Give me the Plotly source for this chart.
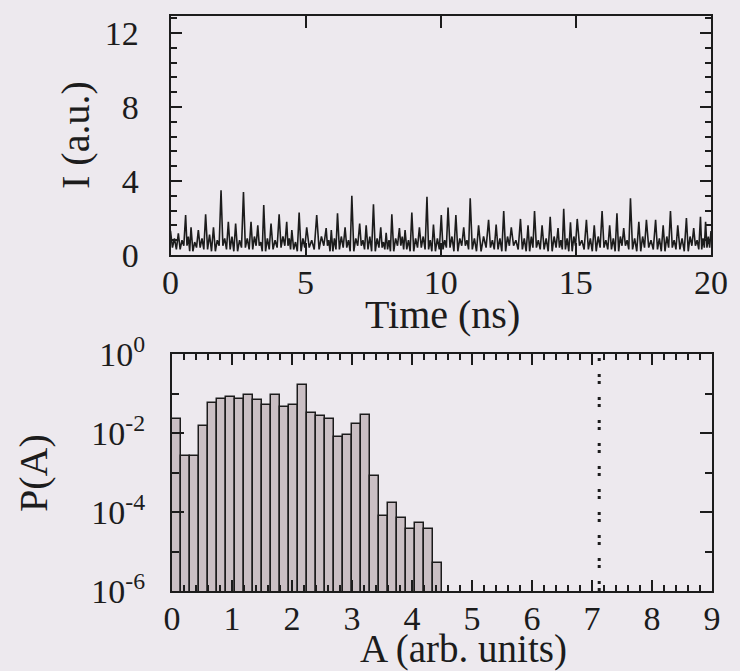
import plotly.graph_objects as go

# ---------------- data ----------------
# Top panel: intensity time trace (peak times in ns, peak heights, trough levels and the small
# bumps seen between consecutive spikes)
peak_times = [0.0, 0.29, 0.56, 0.76, 1.03, 1.30, 1.59, 1.87, 2.14, 2.41, 2.70, 2.98, 3.23, 3.45,
              3.72, 4.02, 4.30, 4.49, 4.76, 5.04, 5.41, 5.76, 5.95, 6.18, 6.46, 6.71, 7.00, 7.24,
              7.51, 7.78, 7.98, 8.19, 8.47, 8.68, 8.93, 9.21, 9.49, 9.73, 10.02, 10.27, 10.56,
              10.85, 11.09, 11.40, 11.77, 12.05, 12.33, 12.61, 12.95, 13.23, 13.47, 13.75, 14.05,
              14.34, 14.55, 14.80, 15.05, 15.39, 15.68, 15.97, 16.25, 16.52, 16.77, 17.02, 17.33,
              17.61, 17.95, 18.23, 18.50, 18.77, 19.09, 19.36, 19.61, 19.80, 20.0]
peak_values = [1.3, 1.17, 2.16, 1.5, 1.35, 2.2, 1.5, 3.5, 1.8, 1.7, 3.4, 1.8, 1.6, 2.7,
               1.7, 2.2, 1.8, 1.35, 2.3, 1.5, 2.16, 1.45, 1.35, 2.25, 1.5, 3.2, 1.7, 1.6,
               2.74, 1.5, 1.2, 2.2, 1.45, 1.35, 2.3, 1.5, 3.15, 1.65, 2.16, 2.56, 2.16,
               1.5, 3.06, 1.6, 1.9, 1.65, 2.38, 1.5, 1.95, 1.6, 2.38, 1.6, 2.07,
               1.45, 2.5, 1.77, 1.95, 1.9, 1.6, 2.38, 1.6, 2.25, 1.45, 3.06, 1.8,
               1.9, 1.9, 1.6, 2.38, 1.6, 2.0, 1.45, 2.07, 1.8, 1.3]
trough_values = [0.4, 0.3, 0.5, 0.2, 0.4, 0.3, 0.2, 0.5, 0.3, 0.2, 0.4, 0.3, 0.5, 0.2,
                 0.3, 0.4, 0.5, 0.3, 0.2, 0.4, 0.3, 0.5, 0.2, 0.3, 0.4, 0.2, 0.5, 0.3,
                 0.2, 0.4, 0.3, 0.2, 0.5, 0.3, 0.2, 0.4, 0.3, 0.2, 0.3, 0.4, 0.2,
                 0.5, 0.3, 0.2, 0.4, 0.3, 0.2, 0.5, 0.3, 0.2, 0.4, 0.3, 0.2,
                 0.4, 0.3, 0.2, 0.5, 0.3, 0.2, 0.4, 0.3, 0.2, 0.5, 0.3, 0.2,
                 0.4, 0.3, 0.2, 0.4, 0.3, 0.2, 0.5, 0.3, 0.4]
bump_values = [0.9, 0.8, 1.0, 0.7, 0.9, 1.1, 0.8, 0.9, 1.0, 0.8, 0.9, 1.0, 0.7, 0.9,
               0.8, 1.0, 0.9, 0.7, 0.9, 0.8, 1.0, 0.8, 0.9, 1.0, 0.8, 0.9, 0.8, 1.0,
               0.9, 0.7, 0.8, 0.9, 1.0, 0.8, 0.9, 1.0, 0.8, 0.9, 0.8, 1.0, 0.9,
               0.8, 0.9, 1.0, 0.8, 0.9, 1.0, 0.8, 0.9, 1.0, 0.8, 0.9, 1.0,
               0.8, 0.9, 1.0, 0.8, 0.9, 1.0, 0.8, 0.9, 1.0, 0.8, 0.9, 1.0,
               0.8, 0.9, 1.0, 0.8, 0.9, 1.0, 0.8, 0.9, 1.0]

# Bottom panel: histogram of amplitudes A (bin width 0.15) on log scale
bin_left = [round(0.15 * i, 2) for i in range(30)]
bin_width = 0.15
prob_log10 = [-1.65, -2.58, -2.58, -1.81, -1.25, -1.14, -1.10, -1.15, -1.05, -1.16,
              -1.29, -1.04, -1.35, -1.30, -0.79, -1.50, -1.57, -1.65, -2.09, -2.05,
              -1.77, -1.55, -3.09, -4.10, -3.78, -4.14, -4.44, -4.29, -4.44, -5.30]
threshold_A = 7.12

y_top_ticks = [0, 4, 8, 12]
x_top_ticks = [0, 5, 10, 15, 20]
y_bot_tickvals = [1e-6, 1e-4, 1e-2, 1]
y_bot_ticktext = ["10<sup>-6</sup>", "10<sup>-4</sup>", "10<sup>-2</sup>", "10<sup>0</sup>"]
y_bot_minor = [1e-5, 1e-3, 1e-1]

# ---------------- build ----------------
tx, ty = [], []
n = len(peak_times)
for i in range(n):
    t = peak_times[i]
    tx.append(t)
    ty.append(peak_values[i])
    if i + 1 < n:
        d = peak_times[i + 1] - t
        tx += [t + 0.25 * d, t + 0.5 * d, t + 0.75 * d]
        ty += [trough_values[i], bump_values[i], trough_values[(i + 1) % len(trough_values)]]

probs = [10 ** p for p in prob_log10]
centers = [b + bin_width / 2 for b in bin_left]

BG = "#ede9ee"
INK = "#1c1c1c"
FONT = "Liberation Serif, Times New Roman, serif"
W, H = 740, 671

fig = go.Figure()
fig.add_trace(go.Scatter(x=tx, y=ty, mode="lines", line=dict(color=INK, width=1.6),
                         xaxis="x", yaxis="y", showlegend=False, hoverinfo="skip"))
fig.add_trace(go.Bar(x=centers, y=probs, width=bin_width, xaxis="x2", yaxis="y2",
                     marker=dict(color="#cabfc4", line=dict(color=INK, width=1.5)),
                     showlegend=False))
fig.add_trace(go.Scatter(x=[threshold_A, threshold_A], y=[1e-6, 1], mode="lines",
                         line=dict(color=INK, width=3, dash="3px,4px,3px,13px"),
                         xaxis="x2", yaxis="y2", showlegend=False))

axis_common = dict(showline=True, linecolor=INK, linewidth=2, mirror="ticks", ticks="inside",
                   tickcolor=INK, tickwidth=2, showgrid=False, zeroline=False,
                   tickfont=dict(family=FONT, size=34, color=INK))

title_font = dict(family=FONT, size=40, color=INK)

fig.update_layout(
    width=W, height=H, margin=dict(l=0, r=0, t=0, b=0, autoexpand=False),
    paper_bgcolor=BG, plot_bgcolor=BG, bargap=0,
    xaxis=dict(domain=[170.5 / W, 711 / W], anchor="y", range=[0, 20],
               tickvals=x_top_ticks, ticklen=12, ticklabelstandoff=-4, **axis_common),
    yaxis=dict(domain=[1 - 255 / H, 1 - 16 / H], anchor="x", range=[0, 12.92],
               tickvals=y_top_ticks, ticklen=11,
               minor=dict(dtick=0.8, tick0=0, ticklen=6, tickcolor=INK, tickwidth=2, ticks="inside"),
               ticklabelstandoff=23, **axis_common),
    xaxis2=dict(domain=[172 / W, 712 / W], anchor="y2", range=[0, 9], dtick=1, tick0=0,
                ticklen=11, ticklabelstandoff=-4,
                minor=dict(dtick=0.2, tick0=0, ticklen=6, tickcolor=INK, tickwidth=2, ticks="inside"),
                **axis_common),
    yaxis2=dict(domain=[1 - 591 / H, 1 - 354 / H], anchor="x2", type="log", range=[-6, 0],
                tickvals=y_bot_tickvals, ticktext=y_bot_ticktext, ticklen=12,
                minor=dict(tickvals=y_bot_minor, ticklen=7, tickcolor=INK, tickwidth=2, ticks="inside"),
                ticklabelstandoff=18, **axis_common),
    annotations=[
        dict(text="I (a.u.)", x=75 / W, y=1 - 135 / H, xref="paper", yref="paper",
             xanchor="center", yanchor="middle",
             showarrow=False, textangle=-90, font=title_font),
        dict(text="Time (ns)", x=442 / W, y=1 - 314 / H, xref="paper", yref="paper",
             xanchor="center", yanchor="middle", showarrow=False, font=title_font),
        dict(text="P(A)", x=33 / W, y=1 - 473 / H, xref="paper", yref="paper",
             xanchor="center", yanchor="middle",
             showarrow=False, textangle=-90, font=title_font),
        dict(text="A (arb. units)", x=463 / W, y=1 - 649 / H, xref="paper", yref="paper",
             xanchor="center", yanchor="middle", showarrow=False,
             font=dict(family=FONT, size=39, color=INK)),
    ],
)

fig.write_html(
    "out.html",
    config={"displayModeBar": False},
    post_script="document.body.style.margin='0';document.body.style.background='#ede9ee';",
)
